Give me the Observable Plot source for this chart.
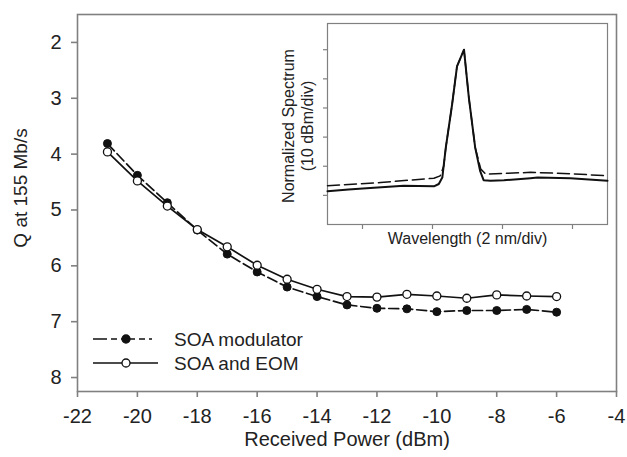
<!DOCTYPE html>
<html>
<head>
<meta charset="utf-8">
<script src="https://cdn.jsdelivr.net/npm/d3@7"></script>
<script src="https://cdn.jsdelivr.net/npm/@observablehq/plot@0.6"></script>
<style>
  body { margin: 0; background: #fff; }
  #wrap { position: relative; width: 627px; height: 457px; overflow: hidden; }
  #wrap > svg { position: absolute; left: 0; top: 0; max-width: none; }
</style>
</head>
<body>
<div id="wrap"></div>
<script>
// ---- main chart data ----
const power = [-21, -20, -19, -18, -17, -16, -15, -14, -13, -12, -11, -10, -9, -8, -7, -6];
const qSoaModulator = [3.81, 4.38, 4.87, 5.36, 5.79, 6.11, 6.38, 6.55, 6.70, 6.76, 6.77, 6.82, 6.80, 6.80, 6.78, 6.83];
const qSoaEom = [3.96, 4.48, 4.93, 5.35, 5.66, 5.99, 6.24, 6.42, 6.55, 6.56, 6.51, 6.54, 6.58, 6.52, 6.54, 6.55];
const seriesNames = ["SOA modulator", "SOA and EOM"];
const xTicks = [-22, -20, -18, -16, -14, -12, -10, -8, -6, -4];
const yTicks = [2, 3, 4, 5, 6, 7, 8];
const xTitle = "Received Power (dBm)";
const yTitle = "Q at 155 Mb/s";

// ---- inset spectrum data (divisions) ----
const specSolidX = [0, 0.3, 0.61, 1.09, 1.52, 1.59, 1.64, 1.69, 1.78, 1.85, 1.95, 2.02, 2.11, 2.18, 2.23, 2.33, 2.52, 2.9, 3.0, 3.47, 4.0];
const specSolidY = [1.14, 1.20, 1.25, 1.33, 1.31, 1.39, 1.61, 2.64, 4.12, 5.43, 6.0, 4.34, 2.64, 1.84, 1.52, 1.50, 1.52, 1.59, 1.61, 1.59, 1.50];
const specDashX = [0, 0.76, 1.52, 1.61, 1.66, 1.69, 1.78, 1.85, 1.95, 2.02, 2.11, 2.19, 2.26, 2.5, 2.9, 3.5, 4.0];
const specDashY = [1.33, 1.44, 1.59, 1.67, 2.0, 2.64, 4.12, 5.43, 6.0, 4.34, 2.64, 1.9, 1.73, 1.75, 1.79, 1.74, 1.67];
const insetXTicks = [0.5, 1.5, 2.5, 3.5];
const insetYTicks = [1, 2, 3, 4, 5, 6];
const insetXTitle = "Wavelength (2 nm/div)";
const insetYTitle = "Normalized Spectrum\n(10 dBm/div)";

const font = "'Liberation Sans', Arial, Helvetica, sans-serif";
const grey = "#808080";
const ink = "#222";

const modData = power.map((p, i) => ({x: p, y: qSoaModulator[i]}));
const eomData = power.map((p, i) => ({x: p, y: qSoaEom[i]}));
const solidData = specSolidX.map((x, i) => ({x, y: specSolidY[i]}));
const dashData = specDashX.map((x, i) => ({x, y: specDashY[i]}));

const main = Plot.plot({
  width: 627, height: 457,
  marginLeft: 77, marginRight: 11, marginTop: 14, marginBottom: 66,
  style: {fontFamily: font, fontSize: "20px", color: ink, background: "transparent"},
  x: {domain: [-22, -4]},
  y: {domain: [1.5, 8.25], reverse: true},
  marks: [
    Plot.frame({stroke: grey, strokeWidth: 1.6}),
    Plot.axisX({ticks: xTicks, tickSize: 6, tickPadding: 11, stroke: grey, strokeWidth: 1.6, fill: ink, fontSize: 20, label: null, tickFormat: d => String(d)}),
    Plot.axisY({ticks: yTicks, tickSize: 6, tickPadding: 10, stroke: grey, strokeWidth: 1.6, fill: ink, fontSize: 20, label: null, tickFormat: d => String(d)}),
    Plot.text([xTitle], {frameAnchor: "bottom", textAnchor: "middle", dy: 54, fill: ink, fontSize: 20}),
    Plot.text([yTitle], {frameAnchor: "left", textAnchor: "middle", rotate: -90, dx: -57, dy: -15, fill: ink, fontSize: 19}),
    Plot.line(modData, {x: "x", y: "y", stroke: "#111", strokeWidth: 1.7, strokeDasharray: "10,4"}),
    Plot.line(eomData, {x: "x", y: "y", stroke: "#111", strokeWidth: 1.7}),
    Plot.dot(modData, {x: "x", y: "y", r: 4, fill: "#111", stroke: "#111", strokeWidth: 1}),
    Plot.dot(eomData, {x: "x", y: "y", r: 4, fill: "white", stroke: "#111", strokeWidth: 1.3})
  ]
});

const inset = Plot.plot({
  width: 627, height: 457,
  marginLeft: 327, marginRight: 20, marginTop: 23, marginBottom: 233,
  style: {fontFamily: font, fontSize: "16px", color: ink, background: "transparent"},
  x: {domain: [0, 4]},
  y: {domain: [0, 6.9]},
  marks: [
    Plot.frame({stroke: grey, strokeWidth: 1.2}),
    Plot.axisX({ticks: insetXTicks, tickSize: 5, stroke: grey, strokeWidth: 1.2, label: null, tickFormat: () => ""}),
    Plot.axisY({ticks: insetYTicks, tickSize: 4, stroke: grey, strokeWidth: 1.2, label: null, tickFormat: () => ""}),
    Plot.text([insetXTitle], {frameAnchor: "bottom", textAnchor: "middle", dy: 19, fill: ink, fontSize: 16}),
    Plot.text([insetYTitle], {frameAnchor: "left", textAnchor: "middle", rotate: -90, dx: -30, dy: 2, fill: ink, fontSize: 16, lineHeight: 1.2}),
    Plot.line(dashData, {x: "x", y: "y", stroke: "#111", strokeWidth: 1.5, strokeDasharray: "12,5"}),
    Plot.line(solidData, {x: "x", y: "y", stroke: "#111", strokeWidth: 2})
  ]
});

// legend
const legend = d3.create("svg").attr("width", 627).attr("height", 457)
  .style("font-family", font).style("font-size", "19px");
const rows = [
  {name: seriesNames[0], dash: "14,4,6,4", fill: "#111", y: 339},
  {name: seriesNames[1], dash: null, fill: "white", y: 363}
];
for (const r of rows) {
  legend.append("line").attr("x1", 93).attr("x2", r.dash ? 152 : 158).attr("y1", r.y).attr("y2", r.y)
    .attr("stroke", "#111").attr("stroke-width", 1.6).attr("stroke-dasharray", r.dash);
  legend.append("circle").attr("cx", 126).attr("cy", r.y).attr("r", 4)
    .attr("fill", r.fill).attr("stroke", "#111").attr("stroke-width", 1.3);
  legend.append("text").attr("x", 174).attr("y", r.y).attr("dy", "0.35em").attr("fill", ink).text(r.name);
}

const wrap = document.getElementById("wrap");
wrap.append(main);
wrap.append(inset);
wrap.append(legend.node());
</script>
</body>
</html>
